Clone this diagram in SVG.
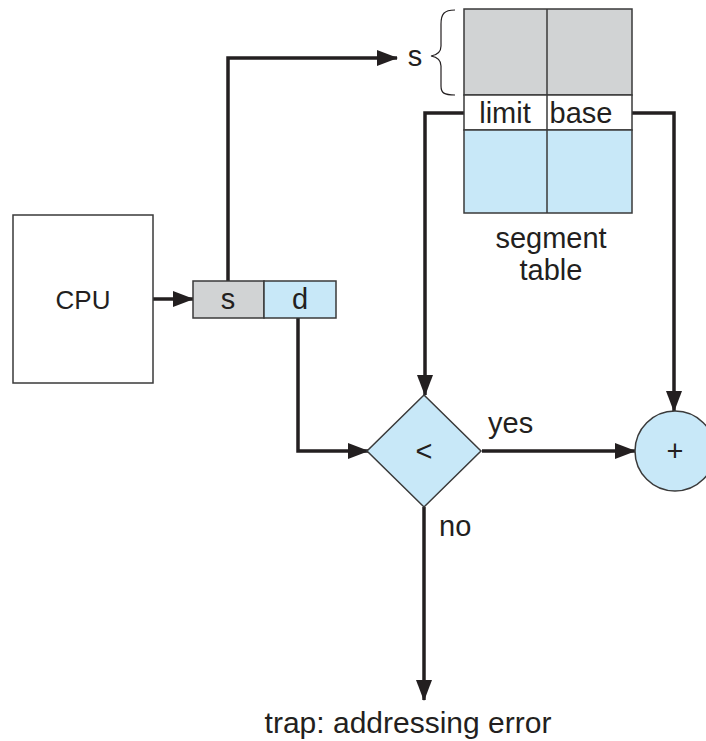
<svg xmlns="http://www.w3.org/2000/svg" width="706" height="741" viewBox="0 0 706 741">
<style>
text{font-family:"Liberation Sans",Arial,sans-serif;font-size:29px;fill:#231f20}
.box{stroke:#3a3a3a;stroke-width:1.5}
.gray{fill:#d1d3d4}
.blue{fill:#c8e8f8}
.conn{fill:none;stroke:#231f20;stroke-width:3.5}
</style>
<defs>
<marker id="arr" markerUnits="userSpaceOnUse" markerWidth="21" markerHeight="16" refX="20" refY="8" orient="auto">
<path d="M0,0 L21,8 L0,16 z" fill="#231f20"/>
</marker>
</defs>
<rect width="706" height="741" fill="#fff"/>
<g id="connectors">
<path class="conn" d="M153,299 L193,299" marker-end="url(#arr)"/>
<path class="conn" d="M228,281 L228,58 L397,58" marker-end="url(#arr)"/>
<path class="conn" d="M298,318 L298,451 L368,451" marker-end="url(#arr)"/>
<path class="conn" d="M464,113 L425,113 L425,395" marker-end="url(#arr)"/>
<path class="conn" d="M632,113 L674,113 L674,411" marker-end="url(#arr)"/>
<path class="conn" d="M482,451 L635,451" marker-end="url(#arr)"/>
<path class="conn" d="M424,507 L424,700" marker-end="url(#arr)"/>
</g>
<g id="cpu">
<rect class="box" x="13" y="215" width="140" height="168" fill="#fff"/>
<text x="83" y="309" text-anchor="middle" style="font-size:26px">CPU</text>
</g>
<g id="address">
<rect class="box gray" x="193" y="281" width="71" height="37"/>
<rect class="box blue" x="264" y="281" width="72" height="37"/>
<text x="228" y="309" text-anchor="middle">s</text>
<text x="300" y="309" text-anchor="middle">d</text>
</g>
<g id="segment-table">
<rect class="box gray" x="464" y="9" width="168" height="86"/>
<rect class="box" x="464" y="95" width="168" height="35" fill="#fff"/>
<rect class="box blue" x="464" y="130" width="168" height="83"/>
<line class="box" x1="547" y1="9" x2="547" y2="213"/>
<text x="505" y="123" text-anchor="middle">limit</text>
<text x="581" y="123" text-anchor="middle">base</text>
<text x="551" y="248" text-anchor="middle">segment</text>
<text x="551" y="280" text-anchor="middle">table</text>
</g>
<g id="s-brace">
<path d="M455,10 C444,10 441,14 441,24 L441,46 C441,52 437,55 431,56 C437,57 441,60 441,66 L441,86 C441,93 444,95 455,95" fill="none" stroke="#231f20" stroke-width="1.2"/>
<text x="415" y="66" text-anchor="middle">s</text>
</g>
<g id="compare">
<path class="box blue" d="M424,395 L481,451 L424,507 L367,451 z"/>
<text x="424" y="461" text-anchor="middle">&lt;</text>
</g>
<g id="adder">
<circle class="box blue" cx="675" cy="451" r="40"/>
<text x="675" y="461" text-anchor="middle">+</text>
</g>
<g id="labels">
<text x="488" y="433">yes</text>
<text x="439" y="536">no</text>
<text x="408" y="733" text-anchor="middle" style="font-size:30px">trap: addressing error</text>
</g>
</svg>
